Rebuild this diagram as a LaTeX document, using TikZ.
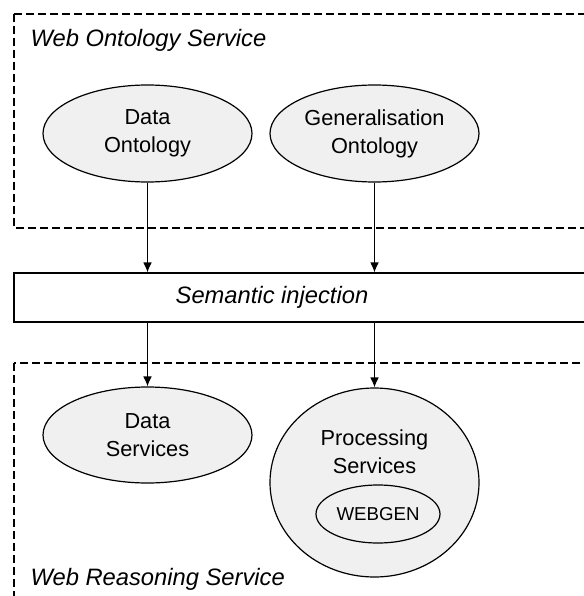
\documentclass[tikz,border=0pt]{standalone}
\usepackage{fontspec}
\setmainfont{Liberation Sans}
\usetikzlibrary{shapes.geometric,arrows.meta}
\definecolor{ovalfill}{RGB}{240,240,240}
\tikzset{every picture/.style={line width=0.9pt}}
\tikzset{
  oval/.style={draw, ellipse, fill=ovalfill, inner sep=0pt, align=center, font=\fontsize{16.3}{21}\selectfont},
  svcbox/.style={draw, dash pattern=on 6pt off 3pt},
  arr/.style={-{Latex[length=7.5pt,width=6.5pt]}},
  boxtitle/.style={font=\fontsize{17.8}{20}\selectfont\itshape, inner sep=0pt}
}

\begin{document}
\begin{tikzpicture}[x=0.75pt,y=0.75pt,yscale=-1,xscale=1]
\useasboundingbox (0,0) rectangle (584,596);
\clip (0,0) rectangle (584,596);

%Shape: Rectangle (dashed) 
\draw[svcbox] (14,14) rectangle (620,228);
%Shape: Rectangle (dashed) 
\draw[svcbox] (14,363) rectangle (620,640);
%Shape: Rectangle 
\draw (14,273) rectangle (620,322);

% Text Node
\node[boxtitle, anchor=west] (wos) at (30,40) {Web Ontology Service};
% Text Node
\node[boxtitle, anchor=west] (wrs) at (30,579) {Web Reasoning Service};
% Text Node
\node[boxtitle, minimum height=36.75pt] (inj) at (272,297.5) {Semantic injection};

%Shape: Ellipse 
\node[oval, minimum width=156.75pt, minimum height=72.75pt] (dont) at (147.5,133.5) {Data\\Ontology};
%Shape: Ellipse 
\node[oval, minimum width=156.75pt, minimum height=72.75pt] (gont) at (374.5,133.5) {Generalisation\\Ontology};
%Shape: Ellipse 
\node[oval, minimum width=156.75pt, minimum height=72pt] (dsvc) at (147.5,435) {Data\\Services};
%Shape: Circle 
\node[oval, minimum width=156.75pt, minimum height=141.75pt] (proc) at (374.5,482.5) {};
% Text Node
\node[align=center, inner sep=0pt, font=\fontsize{16.3}{21}\selectfont] (proclbl) at (374.5,452) {Processing\\Services};
%Shape: Ellipse 
\node[oval, minimum width=93pt, minimum height=43.5pt, font=\fontsize{14}{17}\selectfont] (wgen) at (378,514) {WEBGEN};

%Straight Lines 
\draw[arr] (dont.south) -- (dont.south |- inj.north);
\draw[arr] (gont.south) -- (gont.south |- inj.north);
\draw[arr] (inj.south -| dsvc.north) -- (dsvc.north);
\draw[arr] (inj.south -| proc.north) -- (proc.north);

\end{tikzpicture}
\end{document}
